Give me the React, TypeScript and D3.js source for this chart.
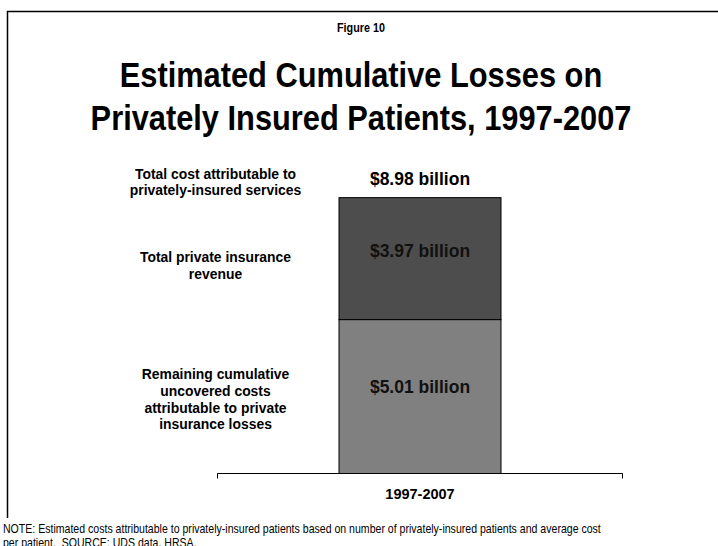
import React from "react";
import * as d3 from "d3";

const categories = ["1997-2007"];
const seriesKeys = ["uncovered", "revenue"];
const uncoveredValues = [5.01];
const revenueValues = [3.97];
const seriesColors = ["#808080", "#4d4d4d"];
const yTicks = [0, 10];

const figureLabel = "Figure 10";
const titleLines = ["Estimated Cumulative Losses on", "Privately Insured Patients, 1997-2007"];
const totalLabelLines = ["Total cost attributable to", "privately-insured services"];
const revenueLabelLines = ["Total private insurance", "revenue"];
const uncoveredLabelLines = [
  "Remaining cumulative",
  "uncovered costs",
  "attributable to private",
  "insurance losses",
];
const noteLines = [
  "NOTE: Estimated costs attributable to privately-insured patients based on number of privately-insured patients and average cost",
  "per patient.  SOURCE: UDS data, HRSA.",
];

const W = 718;
const H = 546;
const FONT = "'Liberation Sans', Arial, Helvetica, sans-serif";

export default function App() {
  const rows = categories.map((c, i) => ({
    category: c,
    uncovered: uncoveredValues[i],
    revenue: revenueValues[i],
  }));
  const stacked = d3.stack<any>().keys(seriesKeys)(rows);

  const x = d3
    .scaleBand<string>()
    .domain(categories)
    .range([217.5, 622.5])
    .paddingInner(0)
    .paddingOuter(0.75);
  const y = d3.scaleLinear().domain([yTicks[0], yTicks[1]]).range([473.5, 166.3]);

  const fmt = (v: number) => `$${v.toFixed(2)} billion`;
  const labelX = 215.5;

  const multiLine = (lines: string[], firstBaseline: number, lh: number) => (
    <text
      x={labelX}
      y={firstBaseline}
      textAnchor="middle"
      fontFamily={FONT}
      fontWeight="bold"
      fontSize={13.9}
      fill="#000"
    >
      {lines.map((l, i) => (
        <tspan key={i} x={labelX} y={firstBaseline + i * lh}>
          {l}
        </tspan>
      ))}
    </text>
  );

  const [x0, x1] = x.range();
  const axisY = y(0);
  const cx = 361;

  return (
    <svg
      width={W}
      height={H}
      style={{ position: "fixed", left: 0, top: 0, background: "#fff" }}
    >
      <rect x={0} y={0} width={W} height={H} fill="#fff" />
      <path d={`M7.5,518 V11.5 H${W}`} fill="none" stroke="#000" strokeWidth={1.5} />

      <g transform={`translate(${cx},32) scale(0.9,1)`}>
        <text x={0} y={0} textAnchor="middle" fontFamily={FONT} fontWeight="bold" fontSize={12} fill="#000">
          {figureLabel}
        </text>
      </g>
      {titleLines.map((t, i) => (
        <g key={i} transform={`translate(${cx},${87 + i * 43}) scale(0.88,1)`}>
          <text
            x={0}
            y={0}
            textAnchor="middle"
            fontFamily={FONT}
            fontWeight="bold"
            fontSize={35}
            fill="#000"
          >
            {t}
          </text>
        </g>
      ))}

      {stacked.map((s, si) =>
        s.map((d, di) => (
          <rect
            key={`${si}-${di}`}
            x={x(categories[di])!}
            y={y(d[1])}
            width={x.bandwidth()}
            height={y(d[0]) - y(d[1])}
            fill={seriesColors[si]}
            stroke="#000"
            strokeWidth={1}
          />
        ))
      )}

      {stacked.map((s, si) =>
        s.map((d, di) => (
          <text
            key={`l-${si}-${di}`}
            x={x(categories[di])! + x.bandwidth() / 2}
            y={y((d[0] + d[1]) / 2) + (si === 0 ? -4 : -1.5)}
            textAnchor="middle"
            fontFamily={FONT}
            fontWeight="bold"
            fontSize={17.5}
            fill="#111"
          >
            {fmt(d[1] - d[0])}
          </text>
        ))
      )}

      {categories.map((c, i) => {
        const total = uncoveredValues[i] + revenueValues[i];
        return (
          <text
            key={`t-${i}`}
            x={x(c)! + x.bandwidth() / 2}
            y={y(total) - 12.5}
            textAnchor="middle"
            fontFamily={FONT}
            fontWeight="bold"
            fontSize={17.5}
            fill="#000"
          >
            {fmt(total)}
          </text>
        );
      })}

      <path
        d={`M${x0},${axisY + 5} V${axisY} H${x1} V${axisY + 5}`}
        fill="none"
        stroke="#000"
        strokeWidth={1}
      />
      {categories.map((c) => (
        <text
          key={`c-${c}`}
          x={x(c)! + x.bandwidth() / 2}
          y={axisY + 25}
          textAnchor="middle"
          fontFamily={FONT}
          fontWeight="bold"
          fontSize={14.5}
          fill="#000"
        >
          {c}
        </text>
      ))}

      {multiLine(totalLabelLines, 179, 16)}
      {multiLine(revenueLabelLines, 262, 16.5)}
      {multiLine(uncoveredLabelLines, 379, 16.8)}

      <g transform="translate(3,0) scale(0.88,1)">
        {noteLines.map((l, i) => (
          <text
            key={`n-${i}`}
            x={0}
            y={533 + i * 14}
            fontFamily={FONT}
            fontSize={12}
            fill="#000"
            style={{ whiteSpace: "pre" }}
          >
            {l}
          </text>
        ))}
      </g>
    </svg>
  );
}
